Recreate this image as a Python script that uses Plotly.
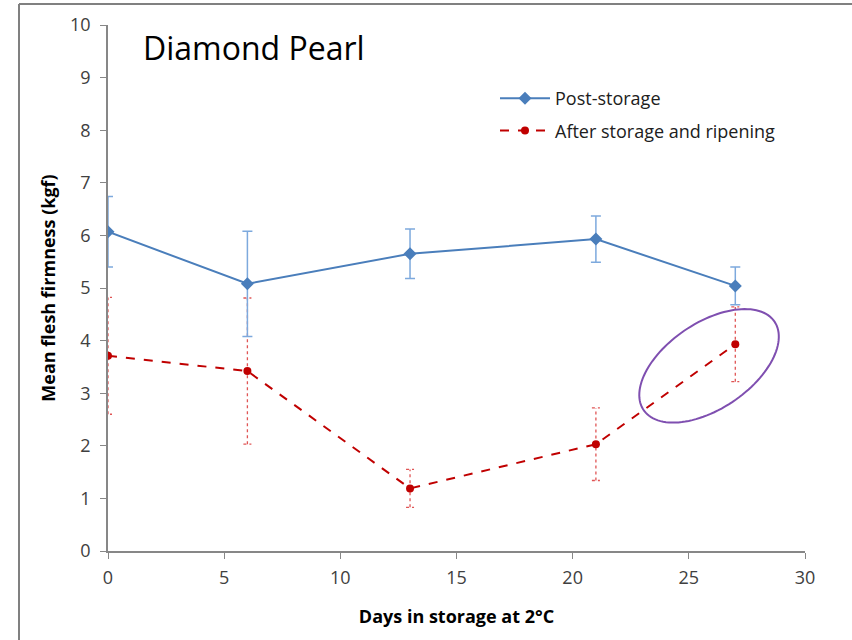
import numpy as np
import plotly.graph_objects as go

days = [0, 6, 13, 21, 27]
post_storage = [6.07, 5.08, 5.65, 5.93, 5.04]
post_err = [0.67, 1.00, 0.47, 0.44, 0.36]
ripened = [3.71, 3.42, 1.19, 2.03, 3.93]
ripened_err = [1.11, 1.39, 0.36, 0.69, 0.71]

x_ticks = [0, 5, 10, 15, 20, 25, 30]
y_ticks = list(range(0, 11))

W, H = 852, 640
ML, MR, MT, MB = 108, 47, 25, 89
PW, PH = W - ML - MR, H - MT - MB
XR, YR = [0, 30], [0, 10]
dx_per_px = (XR[1] - XR[0]) / PW
dy_per_px = (YR[1] - YR[0]) / PH

fig = go.Figure()

# red dotted error bars
cap = 4 * dx_per_px
ex, ey = [], []
for x, y, e in zip(days, ripened, ripened_err):
    ex += [x, x, None, x - cap, x + cap, None, x - cap, x + cap, None]
    ey += [y - e, y + e, None, y + e, y + e, None, y - e, y - e, None]
fig.add_trace(go.Scatter(x=ex, y=ey, mode="lines", showlegend=False, hoverinfo="skip",
                         line=dict(color="#E05555", width=1.3, dash="dot")))

fig.add_trace(go.Scatter(
    x=days, y=post_storage, name="Post-storage", mode="lines+markers",
    line=dict(color="#4A7EBB", width=2),
    marker=dict(symbol="diamond", size=10, color="#4A7EBB"),
    error_y=dict(type="data", array=post_err, visible=True, color="#7DA9DD",
                 thickness=1.5, width=5),
    legendgroup="a"))

fig.add_trace(go.Scatter(
    x=days, y=ripened, name="After storage and ripening", mode="lines+markers",
    line=dict(color="#C00000", width=2, dash="dash"),
    marker=dict(symbol="circle", size=8, color="#C00000"),
    legendgroup="b"))

# purple ellipse highlight (rotated), defined in pixel space, converted to data
cx, cy = 25.87, 3.52
a_px, b_px, ang = 79, 43, np.deg2rad(34)
t = np.linspace(0, 2 * np.pi, 120)
px = a_px * np.cos(t) * np.cos(ang) - b_px * np.sin(t) * np.sin(ang)
py = a_px * np.cos(t) * np.sin(ang) + b_px * np.sin(t) * np.cos(ang)
ex_d = cx + px * dx_per_px
ey_d = cy + py * dy_per_px
path = "M " + " L ".join(f"{u:.4f},{v:.4f}" for u, v in zip(ex_d, ey_d)) + " Z"
fig.add_shape(type="path", path=path, xref="x", yref="y",
              line=dict(color="#7F4FB0", width=2))

# outer frame lines (left and top)
fig.add_shape(type="line", xref="paper", yref="paper",
              x0=(19 - ML) / PW, x1=(19 - ML) / PW, y0=-(H - MT - PH) / PH - 0.1, y1=1 + (MT - 4) / PH,
              line=dict(color="#808080", width=2))
fig.add_shape(type="line", xref="paper", yref="paper",
              x0=(19 - ML) / PW, x1=1 + MR / PW + 0.1, y0=1 + (MT - 4) / PH, y1=1 + (MT - 4) / PH,
              line=dict(color="#808080", width=2))

fig.add_annotation(text="Diamond Pearl", xref="paper", yref="paper",
                   x=(141 - ML) / PW, y=1 - (47 - MT) / PH, xanchor="left", yanchor="middle",
                   showarrow=False, font=dict(size=32, color="#000000", family="Open Sans"))

axis_common = dict(showgrid=False, zeroline=False, showline=True, linecolor="#878787",
                   linewidth=1.5, ticks="outside", tickcolor="#878787", ticklen=6,
                   tickfont=dict(size=18, color="#404040", family="Open Sans"))

fig.update_xaxes(range=XR, tickvals=x_ticks, ticklabelstandoff=4,
                 title=dict(text="<b>Days in storage at 2°C</b>", standoff=22,
                            font=dict(size=18, color="#000000", family="Open Sans")),
                 **axis_common)
fig.update_yaxes(range=YR, tickvals=y_ticks, ticklabelstandoff=6,
                 title=dict(text="<b>Mean flesh firmness (kgf)</b>", standoff=10,
                            font=dict(size=18, color="#000000", family="Open Sans")),
                 **axis_common)

fig.update_layout(
    width=W, height=H, margin=dict(l=ML, r=MR, t=MT, b=MB),
    paper_bgcolor="white", plot_bgcolor="white",
    font=dict(family="Open Sans"),
    legend=dict(x=(495 - ML) / PW, y=1 - (80 - MT) / PH, xanchor="left", yanchor="top",
                itemwidth=50, tracegroupgap=6, traceorder="grouped",
                font=dict(size=18, color="#202020"), bgcolor="rgba(0,0,0,0)"),
    showlegend=True,
)

fig.write_html("out.html")
